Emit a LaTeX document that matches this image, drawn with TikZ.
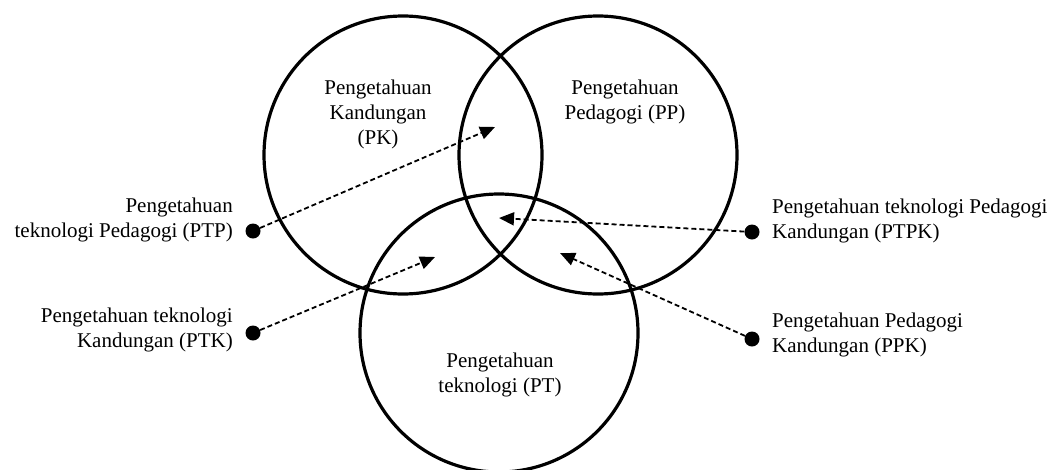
\documentclass[tikz,border=0pt]{standalone}
\usepackage{fontspec}
\setmainfont{Liberation Serif}
\usetikzlibrary{arrows.meta}
\begin{document}
\begin{tikzpicture}[x=1pt,y=-1pt,
  ring/.style={draw,circle,line width=3.2pt,minimum size=278pt,inner sep=0pt},
  txt/.style={font=\fontsize{21}{25}\selectfont,inner sep=0pt},
  dot/.style={circle,fill=black,minimum size=15pt,inner sep=0pt},
  link/.style={dashed,dash pattern=on 5pt off 3pt,line width=1.8pt,-{Triangle[length=15pt,width=13pt]}}]
\useasboundingbox (0,0) rectangle (1054,469);
\node[ring] (PKc) at (403,155) {};
\node[ring] (PPc) at (598,155) {};
\node[ring] (PTc) at (499,333) {};
\node[txt,align=center] (PK) at (378,114) {Pengetahuan\\Kandungan\\(PK)};
\node[txt,align=center] (PP) at (625,102) {Pengetahuan\\Pedagogi (PP)};
\node[txt,align=center] (PT) at (500,375) {Pengetahuan\\teknologi (PT)};
\node[dot] (d1) at (253,231) {};
\node[dot] (d2) at (253,333) {};
\node[dot] (d3) at (752,232) {};
\node[dot] (d4) at (752,339) {};
\node[txt,align=right,anchor=east] (PTP) at (233,220) {Pengetahuan\\teknologi Pedagogi (PTP)};
\node[txt,align=right,anchor=east] (PTK) at (233,330) {Pengetahuan teknologi\\Kandungan (PTK)};
\node[txt,align=left,anchor=west] (PTPK) at (772,221) {Pengetahuan teknologi Pedagogi\\Kandungan (PTPK)};
\node[txt,align=left,anchor=west] (PPK) at (772,335) {Pengetahuan Pedagogi\\Kandungan (PPK)};
\coordinate (t1) at (495,127);
\coordinate (t2) at (435,257);
\coordinate (t3) at (499,218);
\coordinate (t4) at (560,253);
\draw[link] (d1) -- (t1);
\draw[link] (d2) -- (t2);
\draw[link] (d3) -- (t3);
\draw[link] (d4) -- (t4);
\end{tikzpicture}
\end{document}
